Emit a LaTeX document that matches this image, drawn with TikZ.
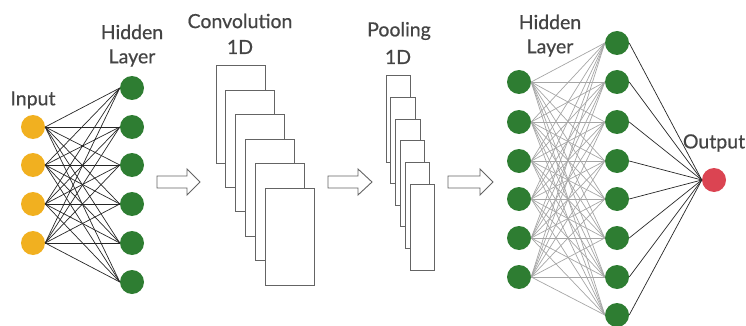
\documentclass[tikz,border=0pt]{standalone}
\usepackage{fontspec}
\setmainfont{Lato}
\newfontfamily\labfont[FakeBold=0.6]{Lato}
\usepackage{xcolor}
\definecolor{inorange}{RGB}{241,176,32}
\definecolor{hidgreen}{RGB}{46,125,50}
\definecolor{outred}{RGB}{219,68,82}
\definecolor{labgray}{RGB}{68,68,68}
\definecolor{boxgray}{RGB}{100,100,100}

\tikzset{
    neuron/.style={circle, inner sep=0pt, minimum size=24pt},
    lab/.style={text=labgray, font=\labfont\fontsize{19.5}{22}\selectfont},
    wire/.style={line width=0.7pt, black!85},
    softwire/.style={line width=0.7pt, black!35},
    fmap/.style={draw=boxgray, line width=1pt, fill=white},
}

\begin{document}
\begin{tikzpicture}[x=1pt,y=-1pt]
            \useasboundingbox (0,0) rectangle (746,326);

            % first dense block
            \foreach \i/\y in {1/127,2/165,3/204,4/243}
                \node[neuron, fill=inorange] (i\i) at (33,\y) {};
            \foreach \j/\y in {1/88,2/127,3/165,4/204,5/243,6/282}
                \node[neuron, fill=hidgreen] (h\j) at (132,\y) {};
            \foreach \i in {1,...,4} {
                    \foreach \j in {1,...,6}
                        \draw[wire] (i\i.east) -- (h\j.west);
                }
            \node[lab] (inlab) at (33,100) {Input};
            \node[lab] (hid1a) at (132,32) {Hidden};
            \node[lab] (hid1b) at (132,58) {Layer};

            % hollow arrows
            \foreach \a/\h/\b in {157/187/200,328/358/372,448/480/493} {
                    \draw[boxgray, line width=0.9pt, fill=white] (\a,176) -- (\h,176) -- (\h,169) -- (\b,182)
                        -- (\h,195) -- (\h,188) -- (\a,188) -- cycle;
                }

            % convolution feature maps
            \foreach \k in {0,...,5}
                \draw[fmap] ({216+9.8*\k},{66+24.4*\k}) rectangle ++(49,97);
            \node[lab] (convlab) at (240,21) {Convolution};
            \node[lab] (convdim) at (240,47) {1D};

            % pooled maps
            \foreach \k in {0,...,5}
                \draw[fmap] ({386+4.8*\k},{76+21.6*\k}) rectangle ++(24.5,86);
            \node[lab] (poollab) at (399,31) {Pooling};
            \node[lab] (pooldim) at (398,57) {1D};

            % second dense block
            \foreach \j/\y in {1/82,2/122,3/161,4/199,5/238,6/277}
                \node[neuron, fill=hidgreen] (g\j) at (519,\y) {};
            \foreach \k/\y in {1/43,2/82,3/122,4/161,5/199,6/238,7/277,8/315}
                \node[neuron, fill=hidgreen] (r\k) at (617,\y) {};
            \node[neuron, fill=outred] (out) at (714,180) {};
            \foreach \j in {1,...,6} {
                    \foreach \k in {1,...,8}
                        \draw[softwire] (g\j.east) -- (r\k.west);
                }
            \foreach \k in {1,...,8}
                \draw[wire] (r\k.east) -- (out.west);
            \node[lab] (hid2a) at (550,22) {Hidden};
            \node[lab] (hid2b) at (550,48) {Layer};
            \node[lab] (outlab) at (714,143) {Output};
        \end{tikzpicture}
\end{document}
